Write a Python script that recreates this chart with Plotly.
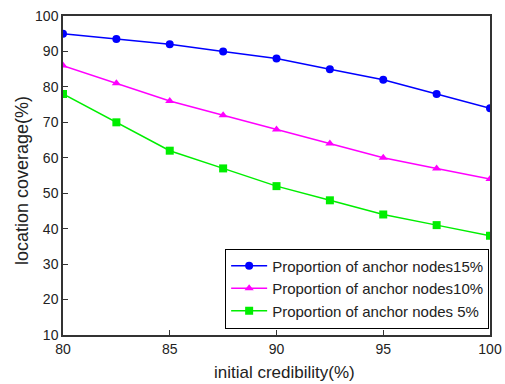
import plotly.graph_objects as go

x = [80, 82.5, 85, 87.5, 90, 92.5, 95, 97.5, 100]
s15 = [95, 93.5, 92, 90, 88, 85, 82, 78, 74]
s10 = [86, 81, 76, 72, 68, 64, 60, 57, 54]
s5 = [78, 70, 62, 57, 52, 48, 44, 41, 38]
names = ["Proportion of anchor nodes15%", "Proportion of anchor nodes10%", "Proportion of anchor nodes 5%"]
colors = ["#0000ff", "#ff00ff", "#00ee00"]
symbols = ["circle", "triangle-up", "square"]

fig = go.Figure()
for ys, n, c, s in zip([s15, s10, s5], names, colors, symbols):
    fig.add_trace(go.Scatter(x=x, y=ys, name=n, mode="lines+markers",
                             line=dict(color=c, width=1.5),
                             marker=dict(symbol=s, size=8, color=c)))

pw, ph = 505 - 63 - 15, 384 - 16 - 49
fig.update_layout(
    width=505, height=384,
    margin=dict(l=63, r=15, t=16, b=49, autoexpand=False),
    paper_bgcolor="white", plot_bgcolor="white",
    font=dict(family="Liberation Sans, Arial", size=13, color="#222"),
    showlegend=True,
    legend=dict(x=0.998, y=0.02, xanchor="right", yanchor="bottom",
                bordercolor="black", borderwidth=1, bgcolor="white",
                font=dict(size=15), tracegroupgap=0, itemwidth=36),
    annotations=[
        dict(text="initial credibility(%)", xref="paper", yref="paper",
             x=(284 - 63) / pw, y=-(372 - 335) / ph, xanchor="center", yanchor="middle",
             showarrow=False, font=dict(size=17)),
        dict(text="location coverage(%)", xref="paper", yref="paper",
             x=-(63 - 22) / pw, y=(335 - 181) / ph, xanchor="center", yanchor="middle",
             textangle=-90, showarrow=False, font=dict(size=18)),
    ],
)

fig.update_xaxes(range=[80, 100], tickvals=[80, 85, 90, 95, 100],
                 ticks="inside", ticklen=5, tickcolor="#333",
                 showline=True, linecolor="#333", linewidth=1.5, mirror=True,
                 showgrid=False, zeroline=False, automargin=False,
                 tickfont=dict(size=14))
fig.update_yaxes(range=[10, 100], tickvals=list(range(10, 101, 10)),
                 ticks="inside", ticklen=5, tickcolor="#333",
                 showline=True, linecolor="#333", linewidth=1.5, mirror=True,
                 showgrid=False, zeroline=False, automargin=False,
                 tickfont=dict(size=14))

fig.write_html("out.html")
